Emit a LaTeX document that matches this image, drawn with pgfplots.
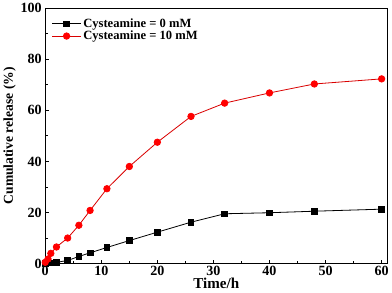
\documentclass[border=0pt]{standalone}
\usepackage{fontspec}
\setmainfont{Liberation Serif}
\usepackage{pgfplots}
\pgfplotsset{compat=1.18}
\begin{document}
\begin{tikzpicture}
\begin{axis}[
  scale only axis,
  width=340pt, height=254pt,
  xmin=0, xmax=61, ymin=0, ymax=100,
  xtick={0,10,...,60}, ytick={0,20,...,100},
  minor xtick={5,15,...,55}, minor ytick={10,30,...,90},
  tick align=inside,
  xtick pos=bottom, ytick pos=left,
  major tick length=4pt, minor tick length=2.5pt,
  /pgf/number format/assume math mode=true,
  tick label style={font=\bfseries\fontsize{14}{14}\selectfont},
  xticklabel style={yshift=1pt},
  yticklabel style={xshift=0pt},
  xlabel={Time/h}, ylabel={Cumulative release (\%)},
  xlabel style={font=\bfseries\fontsize{15}{15}\selectfont, yshift=4pt},
  ylabel style={font=\bfseries\fontsize{13.5}{14}\selectfont, yshift=-2pt},
  axis line style={line width=1pt},
  every tick/.style={black, line width=0.8pt},
  legend style={draw=none, fill=none, at={(0.01,0.975)}, anchor=north west,
    font=\bfseries\fontsize{12.5}{13}\selectfont, row sep=-2pt},
  legend cell align=left,
  legend image code/.code={\draw[mark repeat=2,mark phase=2,#1] plot coordinates {(0cm,0cm)(0.5cm,0cm)(1cm,0cm)};},
]
\addplot[black, line width=0.8pt, mark=square*, mark size=2.8pt] coordinates {
(0,0) (0.5,0.2) (1,0.3) (2,0.5) (4,1.2) (6,2.8) (8,4.2) (11,6.3) (15,9) (20,12.3) (26,16.2) (32,19.5) (40,19.9) (48,20.5) (60,21.3)};
\addlegendentry{Cysteamine = 0 mM}
\addplot[red!85!black, line width=0.8pt, mark=*, mark size=3.2pt, mark options={fill=red, draw=red}] coordinates {
(0,0.5) (0.5,1.8) (1,4) (2,6.5) (4,10) (6,15) (8,20.8) (11,29.3) (15,38) (20,47.5) (26,57.6) (32,62.8) (40,66.8) (48,70.3) (60,72.3)};
\addlegendentry{Cysteamine = 10 mM}
\end{axis}
\end{tikzpicture}
\end{document}
